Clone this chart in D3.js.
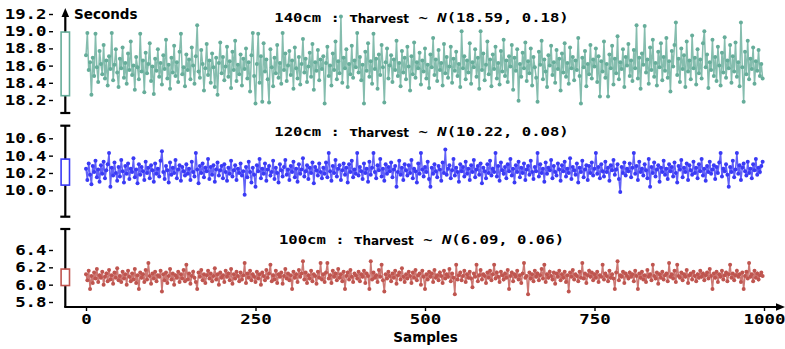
<!DOCTYPE html>
<html>
<head>
<meta charset="utf-8">
<script src="https://cdn.jsdelivr.net/npm/d3@7"></script>
<style>
  body { margin: 0; background: #fff; }
  svg { display: block; }
  .mono { font-family: "DejaVu Sans Mono", monospace; font-weight: bold; }
  .sans { font-family: "DejaVu Sans", sans-serif; font-weight: bold; }
</style>
</head>
<body>
<div id="chart"></div>
<script>
// Harvest time samples (every second sample)
const sampleStep = 2;

const seconds140 = [
  18.72, 18.98, 18.55, 18.64, 18.26, 18.69, 18.48, 18.97, 18.58, 18.41, 18.77, 18.62, 18.50, 18.84, 18.45, 18.66, 18.37, 18.71, 18.56, 18.98, 18.43, 18.61, 18.79, 18.52, 18.35,
  18.68, 18.57, 18.81, 18.46, 18.63, 18.39, 18.74, 18.55, 18.88, 18.49, 18.60, 18.32, 18.70, 18.58, 18.44, 18.97, 18.53, 18.66, 18.29, 18.75, 18.51, 18.62, 18.86, 18.42, 18.59,
  18.27, 18.68, 18.54, 18.79, 18.47, 18.63, 18.38, 18.72, 18.56, 18.90, 18.45, 18.61, 18.33, 18.69, 18.52, 18.83, 18.48, 18.64, 18.41, 18.76, 18.97, 18.50, 18.58, 18.36, 18.73,
  18.55, 18.67, 18.44, 18.81, 18.60, 18.39, 18.71, 19.07, 18.53, 18.46, 18.78, 18.62, 18.31, 18.57, 18.85, 18.49, 18.66, 18.40, 18.74, 18.58, 18.35, 18.69, 18.26, 18.63, 18.87,
  18.51, 18.70, 18.43, 18.59, 18.82, 18.47, 18.65, 18.34, 18.76, 18.55, 18.89, 18.42, 18.61, 18.50, 18.73, 18.37, 18.68, 18.56, 18.80, 18.45, 18.64, 18.30, 18.72, 18.98, 18.48,
  18.16, 18.62, 18.97, 18.40, 18.71, 18.18, 18.86, 18.53, 18.67, 18.44, 18.17, 18.79, 18.58, 18.36, 18.69, 18.51, 18.84, 18.46, 18.63, 18.39, 18.98, 18.55, 18.74, 18.42, 18.60,
  18.77, 18.49, 18.66, 18.33, 18.81, 18.57, 18.45, 18.70, 18.38, 18.62, 18.91, 18.52, 18.68, 18.41, 18.59, 18.75, 18.47, 18.85, 18.32, 18.64, 18.54, 18.78, 18.43, 18.67, 18.56,
  18.71, 18.16, 18.63, 18.82, 18.48, 18.60, 18.37, 18.74, 18.55, 18.88, 18.44, 18.65, 18.51, 19.17, 18.40, 18.69, 18.57, 18.79, 18.35, 18.62, 18.50, 18.83, 18.46, 18.66, 18.58,
  18.98, 18.52, 18.70, 18.43, 18.61, 18.16, 18.76, 18.54, 18.86, 18.47, 18.65, 18.39, 18.97, 18.56, 18.68, 18.33, 18.73, 18.49, 18.84, 18.58, 18.17, 18.64, 18.80, 18.45, 18.60,
  18.72, 18.41, 18.67, 18.55, 18.89, 18.48, 18.63, 18.36, 18.77, 18.52, 18.69, 18.44, 18.82, 18.59, 18.31, 18.71, 18.50, 18.87, 18.46, 18.64, 18.57, 18.75, 18.38, 18.66, 18.53,
  18.80, 18.45, 18.61, 18.34, 18.73, 18.58, 18.92, 18.49, 18.67, 18.42, 18.78, 18.55, 18.63, 18.37, 18.85, 18.51, 18.70, 18.46, 18.59, 18.82, 18.40, 18.68, 18.54, 18.76, 18.48,
  18.62, 18.35, 19.00, 18.57, 18.71, 18.44, 18.66, 18.52, 18.86, 18.39, 18.64, 18.58, 18.79, 18.47, 18.69, 18.33, 19.00, 18.55, 18.74, 18.43, 18.61, 18.88, 18.50, 18.67, 18.36,
  18.73, 18.56, 18.82, 18.45, 18.63, 18.38, 18.77, 18.53, 18.90, 18.48, 18.66, 18.41, 18.71, 18.59, 18.84, 18.32, 18.69, 18.54, 18.79, 18.19, 18.62, 18.47, 18.75, 18.57, 18.87,
  18.42, 18.65, 18.51, 18.80, 18.37, 18.70, 18.58, 18.46, 18.18, 18.76, 18.61, 18.89, 18.44, 18.67, 18.53, 18.35, 18.72, 18.60, 18.83, 18.49, 18.64, 18.40, 18.78, 18.56, 18.68,
  18.31, 18.74, 18.52, 18.86, 18.47, 18.63, 18.39, 18.81, 18.57, 18.70, 18.43, 18.66, 18.55, 18.92, 18.48, 18.16, 18.69, 18.58, 18.77, 18.36, 18.62, 18.50, 18.84, 18.45, 18.67,
  18.59, 18.80, 18.41, 18.71, 18.24, 18.65, 18.53, 18.88, 18.46, 18.62, 18.24, 18.73, 18.57, 18.83, 18.38, 18.68, 18.51, 18.94, 18.44, 18.64, 18.56, 18.79, 18.35, 18.70, 18.60,
  18.85, 18.48, 18.66, 18.42, 18.78, 18.57, 19.07, 18.45, 18.69, 18.33, 18.74, 18.61, 19.06, 18.52, 18.67, 18.39, 18.81, 18.55, 18.90, 18.47, 18.63, 18.37, 18.76, 18.58, 18.86,
  18.43, 18.70, 18.54, 18.92, 18.46, 18.65, 18.30, 18.77, 18.59, 18.84, 19.10, 18.49, 18.68, 18.41, 18.80, 18.56, 18.72, 18.35, 18.88, 18.53, 18.66, 18.44, 18.95, 18.57, 18.69,
  18.38, 18.79, 18.51, 18.67, 18.45, 18.86, 19.00, 18.58, 18.73, 18.34, 18.64, 18.55, 18.90, 18.48, 18.70, 18.42, 18.82, 18.60, 18.37, 18.75, 18.52, 18.93, 18.46, 18.66, 18.57,
  18.84, 18.40, 18.71, 18.53, 18.87, 18.47, 18.64, 18.36, 19.10, 18.58, 18.18, 18.76, 18.50, 18.89, 18.44, 18.68, 18.56, 18.81, 18.39, 18.65, 18.54, 18.78, 18.48, 18.62, 18.45
];

const seconds120 = [
  10.25, 10.12, 10.31, 10.18, 10.07, 10.28, 10.21, 10.34, 10.15, 10.24, 10.10, 10.29, 10.19, 10.33, 10.14, 10.23, 10.30, 10.43, 10.04, 10.26, 10.17, 10.32, 10.20, 10.11, 10.27,
  10.16, 10.35, 10.22, 10.09, 10.28, 10.19, 10.31, 10.13, 10.25, 10.21, 10.37, 10.15, 10.24, 10.08, 10.30, 10.18, 10.27, 10.22, 10.12, 10.33, 10.20, 10.26, 10.14, 10.29, 10.23,
  10.10, 10.31, 10.19, 10.25, 10.16, 10.34, 10.45, 10.21, 10.13, 10.28, 10.23, 10.09, 10.32, 10.18, 10.26, 10.20, 10.35, 10.14, 10.24, 10.29, 10.11, 10.27, 10.22, 10.17, 10.30,
  10.19, 10.25, 10.12, 10.33, 10.21, 10.16, 10.43, 10.24, 10.08, 10.28, 10.20, 10.31, 10.15, 10.26, 10.22, 10.36, 10.13, 10.27, 10.18, 10.29, 10.10, 10.24, 10.32, 10.17, 10.23,
  10.28, 10.14, 10.30, 10.21, 10.11, 10.26, 10.19, 10.34, 10.16, 10.23, 10.29, 10.12, 10.25, 10.20, 10.31, 10.17, 10.22, 9.95, 10.27, 10.15, 10.33, 10.21, 10.09, 10.26, 10.18,
  10.04, 10.29, 10.22, 10.36, 10.14, 10.25, 10.19, 10.31, 10.11, 10.24, 10.28, 10.17, 10.21, 10.34, 10.13, 10.26, 10.20, 10.09, 10.30, 10.23, 10.16, 10.27, 10.35, 10.18, 10.24,
  10.12, 10.28, 10.21, 10.33, 10.15, 10.25, 10.10, 10.30, 10.19, 10.24, 10.37, 10.16, 10.22, 10.29, 10.13, 10.26, 10.20, 10.32, 10.08, 10.27, 10.23, 10.17, 10.31, 10.21, 10.14,
  10.26, 10.19, 10.32, 10.15, 10.43, 10.22, 10.11, 10.28, 10.20, 10.35, 10.16, 10.25, 10.29, 10.12, 10.23, 10.31, 10.18, 10.26, 10.09, 10.30, 10.21, 10.34, 10.15, 10.24, 10.19,
  10.43, 10.17, 10.27, 10.22, 10.13, 10.31, 10.20, 10.25, 10.10, 10.33, 10.18, 10.26, 10.43, 10.21, 10.14, 10.29, 10.23, 10.36, 10.16, 10.25, 10.11, 10.30, 10.19, 10.27, 10.22,
  10.32, 10.15, 10.24, 10.28, 10.04, 10.21, 10.34, 10.18, 10.26, 10.12, 10.30, 10.23, 10.17, 10.29, 10.20, 10.35, 10.14, 10.25, 10.22, 10.09, 10.31, 10.19, 10.43, 10.24, 10.16,
  10.27, 10.21, 10.33, 10.13, 10.04, 10.26, 10.19, 10.30, 10.22, 10.15, 10.28, 10.24, 10.11, 10.32, 10.20, 10.47, 10.18, 10.25, 10.29, 10.14, 10.23, 10.36, 10.17, 10.26, 10.21,
  10.10, 10.30, 10.22, 10.27, 10.16, 10.33, 10.19, 10.25, 10.12, 10.29, 10.21, 10.35, 10.15, 10.24, 10.28, 10.18, 10.31, 10.08, 10.26, 10.22, 10.14, 10.30, 10.20, 10.34, 10.17,
  10.25, 10.21, 10.43, 10.16, 10.28, 10.11, 10.32, 10.23, 10.19, 10.27, 10.14, 10.30, 10.22, 10.36, 10.17, 10.25, 10.09, 10.29, 10.21, 10.33, 10.15, 10.26, 10.20, 10.31, 10.12,
  10.24, 10.28, 10.18, 10.34, 10.21, 10.13, 10.27, 10.22, 10.43, 10.16, 10.30, 10.20, 10.25, 10.10, 10.32, 10.19, 10.26, 10.23, 10.35, 10.14, 10.28, 10.21, 10.17, 10.31, 10.24,
  10.11, 10.29, 10.22, 10.33, 10.16, 10.25, 10.20, 10.37, 10.13, 10.27, 10.23, 10.18, 10.31, 10.09, 10.26, 10.21, 10.34, 10.15, 10.24, 10.29, 10.12, 10.28, 10.20, 10.32, 10.17,
  10.25, 10.43, 10.19, 10.27, 10.14, 10.30, 10.22, 10.16, 10.33, 10.21, 10.26, 10.11, 10.29, 10.23, 10.35, 10.18, 10.24, 10.30, 10.13, 9.98, 10.27, 10.20, 10.32, 10.17, 10.25,
  10.22, 10.31, 10.15, 10.26, 10.43, 10.19, 10.28, 10.12, 10.33, 10.21, 10.25, 10.17, 10.30, 10.23, 10.14, 10.36, 10.04, 10.27, 10.20, 10.32, 10.16, 10.24, 10.29, 10.10, 10.26,
  10.21, 10.34, 10.18, 10.25, 10.13, 10.30, 10.22, 10.27, 10.16, 10.32, 10.20, 10.09, 10.28, 10.24, 10.35, 10.15, 10.26, 10.21, 10.31, 10.12, 10.29, 10.23, 10.18, 10.33, 10.20,
  10.26, 10.14, 10.30, 10.22, 10.36, 10.17, 10.25, 10.11, 10.28, 10.21, 10.33, 10.19, 10.24, 10.29, 10.13, 10.27, 10.20, 10.32, 10.43, 10.16, 10.25, 10.22, 10.30, 10.18, 10.04,
  10.27, 10.21, 10.34, 10.15, 10.24, 10.43, 10.19, 10.29, 10.12, 10.26, 10.31, 10.22, 10.17, 10.33, 10.20, 10.25, 10.14, 10.30, 10.23, 10.36, 10.18, 10.26, 10.21, 10.28, 10.33
];

const seconds100 = [
  6.12, 6.05, 6.16, 5.95, 6.10, 6.02, 6.14, 6.07, 6.18, 6.03, 6.11, 6.08, 6.15, 6.00, 6.09, 6.13, 6.04, 6.17, 6.06, 6.11, 6.01, 6.14, 6.08, 6.19, 6.05,
  6.10, 6.03, 6.15, 6.07, 6.12, 6.00, 6.16, 6.09, 6.04, 6.13, 6.06, 6.18, 6.02, 6.11, 5.95, 6.14, 6.08, 6.12, 6.03, 6.17, 6.06, 6.25, 6.10, 6.01, 6.13,
  6.07, 6.15, 6.04, 6.11, 6.09, 6.16, 5.92, 6.12, 6.05, 6.14, 6.02, 6.10, 6.18, 6.06, 6.13, 6.00, 6.11, 6.08, 6.15, 6.03, 6.12, 6.07, 6.17, 6.04, 6.23,
  6.06, 6.13, 6.01, 6.10, 6.15, 6.08, 6.03, 5.95, 6.14, 6.09, 6.17, 6.05, 6.12, 6.02, 6.11, 6.16, 6.07, 6.13, 6.04, 6.10, 6.19, 6.06, 6.12, 6.00, 6.14,
  6.08, 6.11, 6.03, 6.16, 6.09, 6.13, 6.05, 6.18, 6.01, 6.12, 6.07, 6.15, 6.10, 6.04, 6.14, 6.06, 6.11, 6.25, 6.02, 6.13, 6.08, 6.16, 6.05, 6.12, 6.09,
  6.03, 6.15, 6.07, 6.12, 6.00, 6.14, 6.10, 6.05, 6.17, 6.08, 6.13, 6.23, 6.04, 6.11, 6.06, 6.16, 6.02, 6.12, 6.09, 6.14, 6.01, 6.10, 6.18, 6.07, 6.13,
  6.05, 6.11, 5.95, 6.15, 6.08, 6.12, 6.03, 6.17, 6.09, 6.13, 6.27, 6.06, 6.14, 6.02, 6.11, 6.07, 6.16, 6.04, 6.12, 6.10, 6.01, 6.15, 6.08, 6.25, 6.06,
  6.12, 6.03, 6.14, 6.25, 6.07, 6.11, 6.02, 6.16, 6.09, 6.13, 6.05, 6.18, 6.08, 6.12, 6.04, 6.15, 5.95, 6.10, 6.14, 6.06, 6.17, 6.09, 6.03, 6.13, 6.11,
  6.07, 6.15, 6.04, 6.12, 6.09, 6.16, 6.02, 6.13, 6.10, 5.95, 6.27, 6.06, 6.14, 6.08, 6.11, 6.03, 6.17, 6.09, 6.23, 6.05, 5.92, 6.12, 6.07, 6.15, 6.10,
  6.04, 6.13, 6.08, 6.16, 6.01, 6.11, 6.14, 6.06, 6.19, 6.09, 6.03, 6.12, 6.07, 6.15, 6.10, 6.02, 6.14, 6.08, 6.17, 6.05, 6.11, 6.13, 6.00, 6.16, 6.09,
  5.95, 6.12, 6.06, 6.15, 6.09, 6.13, 6.03, 6.17, 6.08, 6.11, 6.05, 6.14, 6.10, 6.02, 6.16, 6.07, 6.12, 6.09, 6.18, 6.04, 6.13, 6.08, 5.89, 6.23, 6.06,
  6.11, 6.14, 6.05, 6.10, 6.16, 6.03, 6.12, 6.08, 6.15, 6.07, 5.97, 6.13, 6.09, 6.23, 6.04, 6.11, 6.17, 6.06, 6.12, 6.10, 6.02, 6.14, 6.08, 6.16, 6.05,
  6.12, 6.23, 6.07, 6.14, 6.09, 6.03, 6.15, 6.11, 6.06, 6.13, 6.08, 6.17, 5.95, 6.10, 6.14, 6.04, 6.12, 6.09, 6.16, 6.06, 6.11, 6.02, 6.13, 6.25, 6.08,
  6.10, 5.89, 6.14, 6.07, 6.12, 6.04, 6.16, 6.09, 6.13, 6.05, 6.11, 6.18, 6.07, 6.23, 6.03, 6.12, 6.08, 6.15, 6.10, 6.06, 6.14, 6.01, 6.13, 6.09, 6.16,
  6.05, 6.12, 6.08, 6.15, 6.03, 6.11, 5.92, 6.14, 6.09, 6.17, 6.06, 6.12, 6.10, 6.04, 6.15, 6.08, 6.25, 6.07, 6.13, 6.02, 6.11, 6.16, 6.09, 6.14, 6.05,
  6.12, 6.08, 6.15, 6.03, 6.11, 6.09, 6.23, 6.06, 6.13, 6.10, 6.04, 6.16, 6.08, 6.12, 6.07, 5.95, 6.14, 6.27, 6.05, 6.11, 6.09, 6.15, 6.02, 6.13, 6.10,
  6.07, 6.14, 6.09, 6.12, 6.04, 6.16, 6.10, 5.95, 6.13, 6.08, 6.15, 6.06, 6.11, 6.03, 6.17, 6.09, 6.12, 6.05, 6.23, 6.10, 6.07, 6.14, 6.01, 6.12, 6.08,
  6.15, 6.06, 6.11, 6.13, 6.04, 6.25, 6.09, 6.12, 6.07, 6.16, 6.03, 6.23, 6.10, 6.08, 6.14, 6.05, 6.12, 6.09, 6.17, 6.02, 6.11, 6.13, 6.06, 6.15, 6.10,
  6.04, 6.12, 6.08, 6.16, 6.09, 6.13, 6.05, 6.11, 6.14, 6.07, 6.18, 6.10, 5.95, 6.13, 6.08, 6.15, 6.03, 6.12, 6.09, 6.16, 6.06, 6.11, 6.14, 6.04, 6.12,
  6.23, 6.08, 6.13, 6.05, 6.11, 6.16, 6.09, 6.12, 6.03, 6.14, 5.95, 6.10, 6.15, 6.07, 6.25, 6.09, 6.12, 6.04, 6.16, 6.08, 6.13, 6.06, 6.11, 6.14, 6.10
];

// Box on the axis (low, high) for each distance
const box140 = [18.25, 18.99];
const box120 = [10.06, 10.36];
const box100 = [5.99, 6.18];

// Fitted normal parameters shown in the titles
const distances = ["140cm", "120cm", "100cm"];
const means = ["18.59", "10.22", "6.09"];
const stds = ["0.18", "0.08", "0.06"];

// Tick values
const ticks140 = [18.2, 18.4, 18.6, 18.8, 19.0, 19.2];
const ticks120 = [10.0, 10.2, 10.4, 10.6];
const ticks100 = [5.8, 6.0, 6.2, 6.4];
const sampleTicks = [0, 250, 500, 750, 1000];

// Layout for each panel: where two tick values sit in pixels and the spine ends
const layout = [
  { v0: 18.2, v1: 19.2, p0: 100, p1: 14, spineTop: 8, spineBottom: 113, arrow: true, titleY: 21.5, color: "#66ad9a" },
  { v0: 10.0, v1: 10.6, p0: 190.3, p1: 138.3, spineTop: 125.7, spineBottom: 216.7, arrow: false, titleY: 136, color: "#3a3af5" },
  { v0: 5.8, v1: 6.4, p0: 302, p1: 250, spineTop: 229, spineBottom: 307, arrow: false, titleY: 243.5, color: "#bf554f" }
];
const series = [seconds140, seconds120, seconds100];
const boxes = [box140, box120, box100];
const tickSets = [ticks140, ticks120, ticks100];

const W = 785, H = 349;
const spineX = 65.3;
const xAxisY = 307;
const monoStretch = 1.24;

const svg = d3.select("#chart").append("svg")
  .attr("width", W)
  .attr("height", H);

const x = d3.scaleLinear().domain([0, 1000]).range([86, 764]);

// stretch monospaced labels horizontally, the reference font is wider
function stretch(sel, k) {
  sel.each(function() {
    const w = this.getComputedTextLength();
    d3.select(this).attr("textLength", w * k).attr("lengthAdjust", "spacingAndGlyphs");
  });
}

layout.forEach((L, idx) => {
  const y = d3.scaleLinear().domain([L.v0, L.v1]).range([L.p0, L.p1]);
  const g = svg.append("g");

  // series line + markers
  const line = d3.line()
    .x((d, i) => x(i * sampleStep))
    .y(d => y(d));
  g.append("path")
    .datum(series[idx])
    .attr("d", line)
    .attr("fill", "none")
    .attr("stroke", L.color)
    .attr("stroke-width", 1.5)
    .attr("stroke-opacity", 0.8);
  g.selectAll("circle")
    .data(series[idx])
    .enter().append("circle")
    .attr("cx", (d, i) => x(i * sampleStep))
    .attr("cy", d => y(d))
    .attr("r", 2)
    .attr("fill", L.color);

  // y spine
  g.append("line")
    .attr("x1", spineX).attr("x2", spineX)
    .attr("y1", L.arrow ? L.spineTop + 7 : L.spineTop)
    .attr("y2", L.spineBottom)
    .attr("stroke", "#000")
    .attr("stroke-width", 2.2);
  if (L.arrow) {
    g.append("path")
      .attr("d", `M${spineX},${L.spineTop} L${spineX - 3.8},${L.spineTop + 9} L${spineX + 3.8},${L.spineTop + 9} Z`)
      .attr("fill", "#000");
  } else {
    g.append("line")
      .attr("x1", spineX - 5).attr("x2", spineX + 5)
      .attr("y1", L.spineTop).attr("y2", L.spineTop)
      .attr("stroke", "#000").attr("stroke-width", 2.2);
  }
  if (idx < 2) {
    g.append("line")
      .attr("x1", spineX - 5).attr("x2", spineX + 5)
      .attr("y1", L.spineBottom).attr("y2", L.spineBottom)
      .attr("stroke", "#000").attr("stroke-width", 2.2);
  }

  // box on the spine
  g.append("rect")
    .attr("x", spineX - 4.2)
    .attr("width", 8.4)
    .attr("y", y(boxes[idx][1]))
    .attr("height", y(boxes[idx][0]) - y(boxes[idx][1]))
    .attr("fill", "#fff")
    .attr("stroke", L.color)
    .attr("stroke-width", 1.6);

  // ticks
  const axisG = g.append("g")
    .attr("transform", "translate(53,0)")
    .call(d3.axisLeft(y).tickValues(tickSets[idx]).tickSize(4).tickPadding(2.5).tickFormat(d3.format(".1f")));
  axisG.select(".domain").remove();
  axisG.selectAll(".tick line").attr("stroke", "#000").attr("stroke-width", 1.4);
  axisG.selectAll(".tick text")
    .attr("class", "mono")
    .attr("fill", "#000")
    .style("font-size", "14px")
    .call(stretch, monoStretch);

  // title
  const fs = 13;
  const t = svg.append("text")
    .attr("x", 421.5)
    .attr("y", L.titleY)
    .attr("text-anchor", "middle")
    .style("white-space", "pre")
    .attr("fill", "#000");
  const monoSpan = (txt, italic) => {
    const s = t.append("tspan")
      .attr("class", "mono")
      .style("font-size", fs + "px")
      .style("font-style", italic ? "italic" : "normal")
      .text(txt);
    s.attr("textLength", txt.length * 0.602 * fs * 1.2).attr("lengthAdjust", "spacingAndGlyphs");
    return s;
  };
  monoSpan(distances[idx] + " : ");
  t.append("tspan").attr("class", "sans").style("font-size", "13px").text("\u03c4");
  t.append("tspan").attr("class", "sans").style("font-size", "12px").attr("dy", 1).text("harvest");
  monoSpan(" ~ ").attr("dy", -1);
  monoSpan("N", true);
  monoSpan(`(${means[idx]}, ${stds[idx]})`);
});

// x axis
svg.append("line")
  .attr("x1", spineX - 1.1).attr("x2", W - 8)
  .attr("y1", xAxisY).attr("y2", xAxisY)
  .attr("stroke", "#000").attr("stroke-width", 2.2);
svg.append("path")
  .attr("d", `M${W},${xAxisY} L${W - 9},${xAxisY - 3.8} L${W - 9},${xAxisY + 3.8} Z`)
  .attr("fill", "#000");

const xAxisG = svg.append("g")
  .attr("transform", `translate(0,${xAxisY})`)
  .call(d3.axisBottom(x).tickValues(sampleTicks).tickSize(4).tickPadding(3).tickFormat(d3.format("d")));
xAxisG.select(".domain").remove();
xAxisG.selectAll(".tick line").attr("stroke", "#000").attr("stroke-width", 1.4);
xAxisG.selectAll(".tick text")
  .attr("class", "mono")
  .attr("fill", "#000")
  .style("font-size", "14px")
  .call(stretch, monoStretch);

// axis labels
svg.append("text")
  .attr("class", "sans")
  .attr("x", 74)
  .attr("y", 19)
  .style("font-size", "13.5px")
  .text("Seconds");

svg.append("text")
  .attr("class", "sans")
  .attr("x", 425.5)
  .attr("y", 342)
  .attr("text-anchor", "middle")
  .style("font-size", "13.5px")
  .text("Samples");
</script>
</body>
</html>
